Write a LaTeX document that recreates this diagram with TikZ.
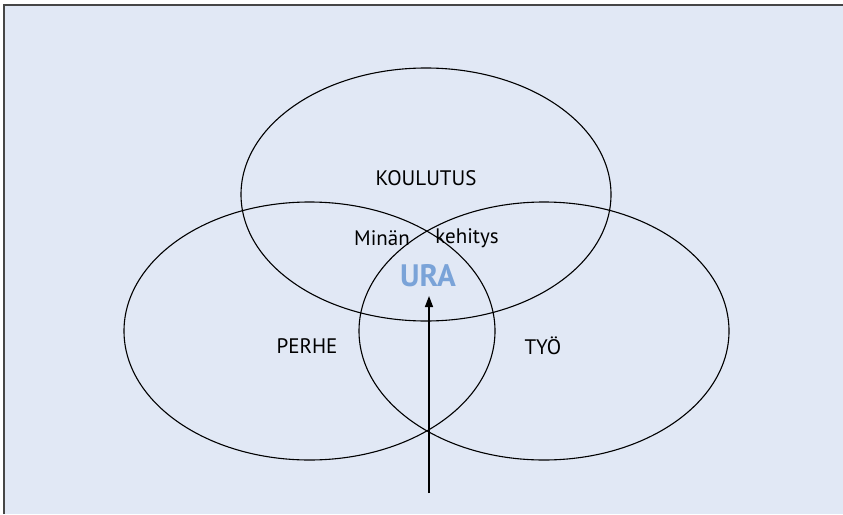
\documentclass[tikz,border=0pt]{standalone}
\usepackage{fontspec}
\setmainfont{PT Sans}
\usetikzlibrary{arrows.meta}
\definecolor{bgblue}{RGB}{225,232,245}
\definecolor{frame}{RGB}{70,70,70}
\definecolor{urablue}{RGB}{122,163,216}
\tikzset{
  venn/.style={draw=black, line width=1.1pt},
  lbl/.style={font=\fontsize{21}{24}\selectfont, inner sep=0pt},
  ura/.style={font=\fontsize{31}{34}\selectfont\bfseries, text=urablue, inner sep=0pt},
}
\begin{document}
\begin{tikzpicture}[x=1pt,y=-1pt]
\useasboundingbox (0,0) rectangle (843,514);
\fill[bgblue] (3.5,5) rectangle (843,514);
\draw[frame, line width=2pt] (3.5,514) -- (3.5,5) -- (843,5);
\draw[venn] (426,194.5) ellipse [x radius=185, y radius=126.5];
\draw[venn] (309.5,331) ellipse [x radius=185.5, y radius=129];
\draw[venn] (544,331) ellipse [x radius=185, y radius=129];
\node[lbl] (koul) at (426,178) {KOULUTUS};
\node[lbl] (perhe) at (307,346) {PERHE};
\node[lbl] (tyo) at (543,346) {TYÖ};
\node[lbl] (minan) at (382,238) {Minän};
\node[lbl] (keh) at (467,238) {kehitys};
\node[ura] (ura) at (428,276) {URA};
\coordinate (as) at (429,493);
\coordinate (ae) at (429,296);
\draw[line width=1.4pt, -{Triangle[length=11pt,width=8pt]}] (as) -- (ae);
\end{tikzpicture}
\end{document}
